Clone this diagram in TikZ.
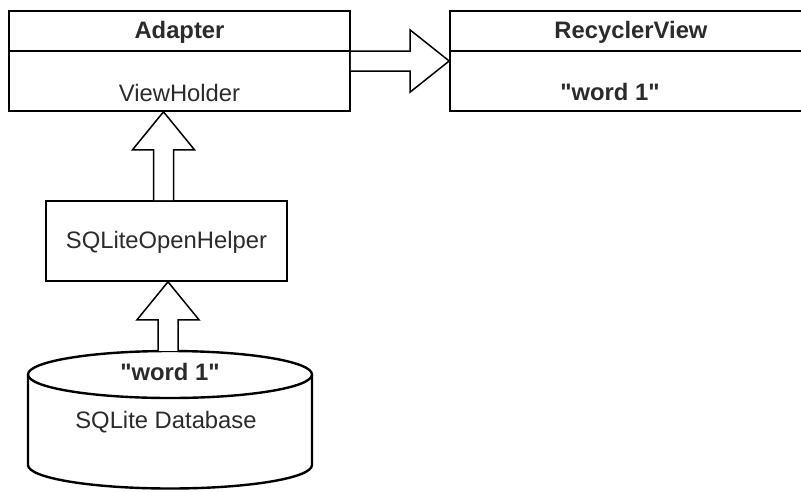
\documentclass[tikz,border=0pt]{standalone}
\usepackage{fontspec}
\setmainfont{Liberation Sans}
\newfontfamily\arialf{Liberation Sans}[Ligatures=NoCommon]
\usetikzlibrary{calc}
\definecolor{txt}{HTML}{2b2b2b}
\tikzset{
  box/.style={draw=black, line width=1.6pt, fill=white, inner sep=0pt},
  lbl/.style={text=txt, inner sep=0pt, font=\arialf\fontsize{23.8}{28}\selectfont},
  blbl/.style={lbl, font=\arialf\fontsize{23.8}{28}\selectfont\bfseries},
  blockarrow/.style={draw=black, line width=1.5pt, fill=white, line join=miter},
  dbline/.style={draw=black, line width=2.4pt}
}
\begin{document}
\begin{tikzpicture}[x=1pt,y=-1pt]
\useasboundingbox (0,0) rectangle (801,491);
% Adapter
\node[box, minimum width=341pt, minimum height=100pt] (adapter) at (179.5,61) {};
\draw[line width=1.6pt] (9,51) -- (350,51);
\node[blbl] (adt) at (179.5,32) {Adapter};
\node[lbl] (vh) at (179.5,93) {ViewHolder};
% RecyclerView
\node[box, minimum width=362pt, minimum height=100pt] (rv) at (631,61) {};
\draw[line width=1.6pt] (450,51) -- (812,51);
\node[blbl] (rvt) at (631,32) {RecyclerView};
\node[blbl] (w1) at (610,92) {\symbol{"22}word 1\symbol{"22}};
% SQLiteOpenHelper
\node[box, minimum width=241pt, minimum height=80pt] (helper) at (166.5,241) {};
\node[lbl] (ht) at (166.5,242) {SQLiteOpenHelper};
% Database cylinder
\node[inner sep=0pt, minimum width=284pt, minimum height=137.5pt] (db) at (170,419.75) {};
\draw[dbline, fill=white] (28,374.5) -- (28,465) arc[start angle=180, end angle=0, x radius=142, y radius=23.5] -- (312,374.5);
\draw[dbline, fill=white] (170,374.5) ellipse[x radius=142, y radius=23.5];
\node[blbl] (w2) at (170,372) {\symbol{"22}word 1\symbol{"22}};
\node[lbl] (dbt) at (166,422) {SQLite Database};
% block arrow Adapter -> RecyclerView
\draw[blockarrow] ($(adapter.east)+(0,-10)$) -- ($(rv.west)+(-39,-10)$) -- ($(rv.west)+(-39,-31)$) -- (rv.west) -- ($(rv.west)+(-39,31)$) -- ($(rv.west)+(-39,10)$) -- ($(adapter.east)+(0,10)$);
% block arrow helper -> adapter
\coordinate (b1) at ($(helper.north)+(-3,0)$);
\coordinate (t1) at (b1 |- adapter.south);
\draw[blockarrow] ($(b1)+(-10,0)$) -- ($(t1)+(-10,38)$) -- ($(t1)+(-31,38)$) -- (t1) -- ($(t1)+(31,38)$) -- ($(t1)+(10,38)$) -- ($(b1)+(10,0)$);
% block arrow db -> helper
\coordinate (b2) at ($(db.north)+(-2,0)$);
\coordinate (t2) at (b2 |- helper.south);
\draw[blockarrow] ($(b2)+(-10,0)$) -- ($(t2)+(-10,38)$) -- ($(t2)+(-31,38)$) -- (t2) -- ($(t2)+(31,38)$) -- ($(t2)+(10,38)$) -- ($(b2)+(10,0)$);
\end{tikzpicture}
\end{document}
